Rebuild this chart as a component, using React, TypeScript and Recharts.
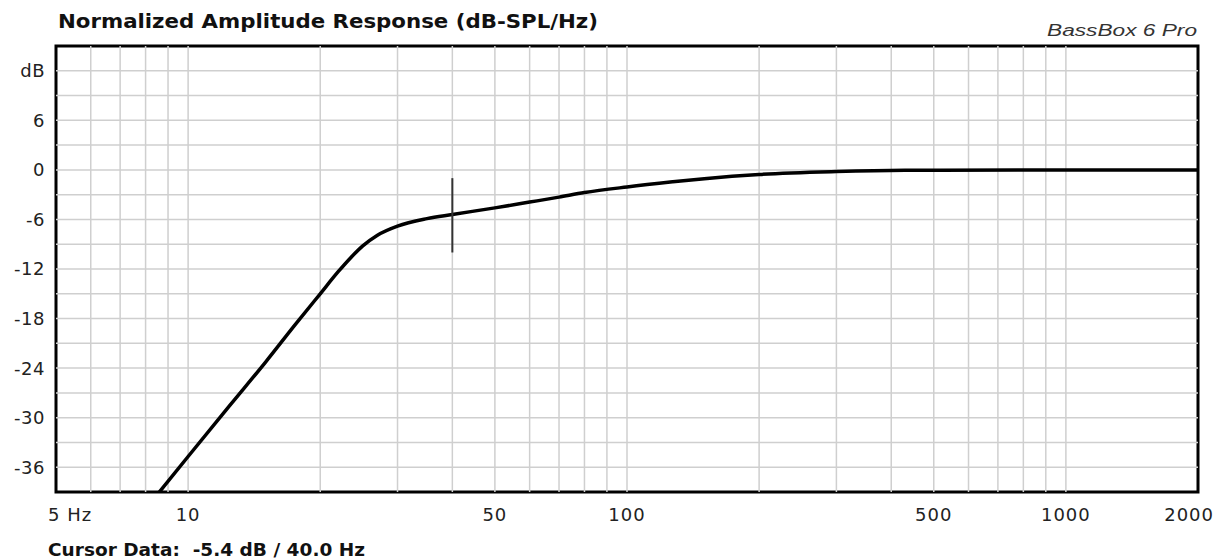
import React from "react";
import {
  LineChart,
  Line,
  XAxis,
  YAxis,
  ReferenceLine,
  ReferenceArea,
} from "recharts";

// response (Hz / dB)
const freqs = [
  8.6, 10, 12.5, 15, 17.5, 20, 22, 23.5, 25, 27, 30, 35, 40, 50, 60, 70, 80,
  100, 127, 150, 200, 300, 430, 1000, 2000,
];
const levels = [
  -39, -34.7, -28.4, -23.3, -18.8, -15.0, -12.3, -10.6, -9.2, -7.9, -6.8, -5.9,
  -5.4, -4.6, -3.9, -3.3, -2.75, -2.07, -1.45, -1.06, -0.55, -0.2, -0.05, 0, 0,
];

const xTicks = [5, 10, 50, 100, 500, 1000, 2000];
const yTicks = [12, 6, 0, -6, -12, -18, -24, -30, -36];
const hGrid = [12, 9, 6, 3, 0, -3, -6, -9, -12, -15, -18, -21, -24, -27, -30, -33, -36];
const vGrid = [
  6, 7, 8, 9, 10, 20, 30, 40, 50, 60, 70, 80, 90, 100, 200, 300, 400, 500,
  600, 700, 800, 900, 1000,
];

const cursorFreq = 40;
const cursorRange = [-1, -10];

const data = freqs.map((f, i) => ({ f, db: levels[i] }));

const tickFont = "'DejaVu Sans', sans-serif";

const XTick = (props: any) => {
  const { x, y, payload } = props;
  const v = payload.value;
  let anchor: "start" | "middle" | "end" = "middle";
  let dx = 0;
  if (v === 5) {
    anchor = "start";
    dx = -8;
  } else if (v === 2000) {
    anchor = "end";
    dx = 16;
  }
  return (
    <text
      x={x + dx}
      y={y + 29}
      textAnchor={anchor}
      fontFamily={tickFont}
      fontSize={18}
      letterSpacing={1}
      fill="#222"
    >
      {v === 5 ? "5 Hz" : v}
    </text>
  );
};

const YTick = (props: any) => {
  const { x, y, payload } = props;
  const v = payload.value;
  return (
    <text
      x={x - 11}
      y={y}
      dy="0.36em"
      textAnchor="end"
      fontFamily={tickFont}
      fontSize={18}
      letterSpacing={0.5}
      fill="#222"
    >
      {v === 12 ? "dB" : v}
    </text>
  );
};

export default function App() {
  return (
    <div
      style={{
        position: "absolute",
        left: 0,
        top: 0,
        width: 1222,
        height: 560,
        background: "#fff",
      }}
    >
      <LineChart
        width={1222}
        height={560}
        data={data}
        margin={{ top: 46, right: 24, bottom: 38, left: 0 }}
      >
        {hGrid.map((v) => (
          <ReferenceLine key={"h" + v} y={v} stroke="#cfcfcf" strokeWidth={1.5} />
        ))}
        {vGrid.map((v) => (
          <ReferenceLine key={"v" + v} x={v} stroke="#cfcfcf" strokeWidth={1.5} />
        ))}
        <XAxis
          dataKey="f"
          type="number"
          scale="log"
          domain={[5, 2000]}
          allowDataOverflow
          ticks={xTicks}
          tick={<XTick />}
          tickLine={false}
          axisLine={false}
          tickSize={0}
          tickMargin={0}
          height={30}
          interval={0}
        />
        <YAxis
          type="number"
          domain={[-39, 15]}
          allowDataOverflow
          ticks={yTicks}
          tick={<YTick />}
          tickLine={false}
          axisLine={false}
          tickSize={0}
          tickMargin={0}
          width={56}
          interval={0}
        />
        <Line
          type="monotone"
          dataKey="db"
          stroke="#000"
          strokeWidth={3.5}
          dot={false}
          isAnimationActive={false}
        />
        <ReferenceLine
          segment={[
            { x: cursorFreq, y: cursorRange[0] },
            { x: cursorFreq, y: cursorRange[1] },
          ]}
          stroke="#333"
          strokeWidth={2}
        />
        <ReferenceArea
          x1={5}
          x2={2000}
          y1={-39}
          y2={15}
          fill="none"
          stroke="#000"
          strokeWidth={3}
        />
      </LineChart>
      <svg
        width={1222}
        height={560}
        style={{ position: "absolute", left: 0, top: 0, pointerEvents: "none" }}
      >
        <text
          x={58}
          y={28}
          fontFamily="'DejaVu Sans', sans-serif"
          fontWeight="bold"
          fontSize={19}
          fill="#111"
          textLength={540}
          lengthAdjust="spacingAndGlyphs"
        >
          Normalized Amplitude Response (dB-SPL/Hz)
        </text>
        <text
          x={1047}
          y={36}
          fontFamily="'Liberation Sans', Arial, sans-serif"
          fontStyle="italic"
          fontSize={16}
          fill="#333"
          textLength={150}
          lengthAdjust="spacingAndGlyphs"
        >
          BassBox 6 Pro
        </text>
        <text
          x={48}
          y={556}
          fontFamily="'DejaVu Sans', sans-serif"
          fontWeight="bold"
          fontSize={18}
          fill="#111"
          textLength={317}
          lengthAdjust="spacingAndGlyphs"
          style={{ whiteSpace: "pre" }}
        >
          {"Cursor Data:  -5.4 dB / 40.0 Hz"}
        </text>
      </svg>
    </div>
  );
}
